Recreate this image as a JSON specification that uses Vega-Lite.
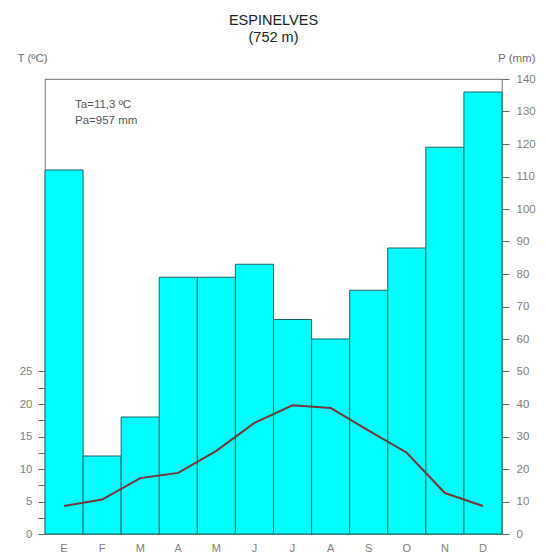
{
  "$schema": "https://vega.github.io/schema/vega-lite/v6.json",
  "width": 457,
  "height": 455,
  "autosize": {"type": "none"},
  "padding": {"left": 45, "top": 79, "right": 45, "bottom": 18},
  "background": "white",
  "config": {
    "font": "Liberation Sans",
    "view": {"stroke": "#8a8a8a", "strokeWidth": 1.2},
    "axis": {"grid": false}
  },
  "title": {
    "text": ["ESPINELVES", "(752 m)"],
    "fontSize": 14.5,
    "fontWeight": "normal",
    "color": "#222",
    "lineHeight": 17,
    "anchor": "middle",
    "offset": 7
  },
  "data": {
    "values": [
      {"m": 1, "P": 112, "T": 4.3},
      {"m": 2, "P": 24, "T": 5.3},
      {"m": 3, "P": 36, "T": 8.6},
      {"m": 4, "P": 79, "T": 9.4},
      {"m": 5, "P": 79, "T": 12.8},
      {"m": 6, "P": 83, "T": 17.1},
      {"m": 7, "P": 66, "T": 19.8},
      {"m": 8, "P": 60, "T": 19.4},
      {"m": 9, "P": 75, "T": 15.9},
      {"m": 10, "P": 88, "T": 12.5},
      {"m": 11, "P": 119, "T": 6.3},
      {"m": 12, "P": 136, "T": 4.3}
    ]
  },
  "encoding": {
    "x": {
      "field": "m",
      "type": "ordinal",
      "scale": {"paddingInner": 0, "paddingOuter": 0},
      "axis": {
        "title": null,
        "labelExpr": "['E','F','M','A','M','J','J','A','S','O','N','D'][datum.value-1]",
        "ticks": false,
        "domain": false,
        "labelAngle": 0,
        "labelColor": "#808080",
        "labelFontSize": 11,
        "labelPadding": 8
      }
    }
  },
  "layer": [
    {
      "mark": {"type": "bar", "fill": "#00FFFF", "stroke": "#1a6468", "strokeWidth": 1},
      "encoding": {
        "y": {
          "field": "P",
          "type": "quantitative",
          "scale": {"domain": [0, 140], "nice": false},
          "axis": {
            "orient": "right",
            "values": [0, 10, 20, 30, 40, 50, 60, 70, 80, 90, 100, 110, 120, 130, 140],
            "domain": false,
            "tickColor": "#666",
            "tickSize": 7,
            "labelColor": "#808080",
            "labelFontSize": 11.5,
            "labelPadding": 7,
            "title": "P (mm)",
            "titleAngle": 0,
            "titleAlign": "right",
            "titleBaseline": "alphabetic",
            "titleX": 33,
            "titleY": -18,
            "titleFontWeight": "normal",
            "titleFontSize": 11.5,
            "titleColor": "#707070"
          }
        }
      }
    },
    {
      "mark": {"type": "line", "color": "#74363a", "strokeWidth": 2},
      "encoding": {
        "y": {
          "field": "T",
          "type": "quantitative",
          "scale": {"domain": [0, 70], "nice": false},
          "axis": {
            "orient": "left",
            "values": [0, 2.5, 5, 7.5, 10, 12.5, 15, 17.5, 20, 22.5, 25],
            "labelExpr": "datum.value % 5 === 0 ? datum.label : ''",
            "domain": false,
            "tickColor": "#666",
            "tickSize": 7,
            "labelColor": "#808080",
            "labelFontSize": 11.5,
            "labelPadding": 6,
            "title": "T (ºC)",
            "titleAngle": 0,
            "titleAlign": "left",
            "titleBaseline": "alphabetic",
            "titleX": -28,
            "titleY": -18,
            "titleFontWeight": "normal",
            "titleFontSize": 11.5,
            "titleColor": "#707070"
          }
        }
      }
    },
    {
      "data": {
        "values": [
          {"m": 1, "pos": 131, "label": "Ta=11,3 ºC"},
          {"m": 1, "pos": 126.3, "label": "Pa=957 mm"}
        ]
      },
      "mark": {"type": "text", "align": "left", "baseline": "alphabetic", "dx": 11, "fontSize": 11.5, "color": "#555"},
      "encoding": {
        "y": {"field": "pos", "type": "quantitative", "scale": {"domain": [0, 140], "nice": false}, "axis": null},
        "text": {"field": "label"}
      }
    }
  ],
  "resolve": {"scale": {"y": "independent"}}
}
